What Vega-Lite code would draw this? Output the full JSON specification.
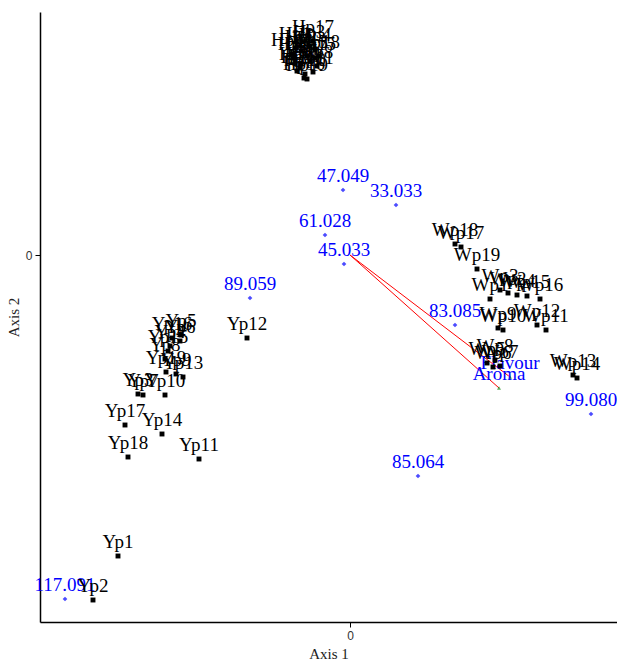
{
  "$schema": "https://vega.github.io/schema/vega-lite/v6.json",
  "width": 577,
  "height": 610,
  "autosize": {"type": "none"},
  "padding": {"left": 40, "top": 12, "right": 0, "bottom": 46},
  "background": "white",
  "config": {"view": {"stroke": null}},
  "datasets": {
    "obs": [
      {"x": -2.32, "y": -3.01, "label": "Yp1"},
      {"x": -2.57, "y": -3.45, "label": "Yp2"},
      {"x": -2.12, "y": -1.39, "label": "Yp3"},
      {"x": -1.80, "y": -0.91, "label": "Yp4"},
      {"x": -1.69, "y": -0.80, "label": "Yp5"},
      {"x": -1.70, "y": -0.86, "label": "Yp6"},
      {"x": -2.07, "y": -1.40, "label": "Yp7"},
      {"x": -1.85, "y": -1.04, "label": "Yp8"},
      {"x": -1.74, "y": -1.19, "label": "Yp9"},
      {"x": -1.85, "y": -1.40, "label": "Yp10"},
      {"x": -1.51, "y": -2.04, "label": "Yp11"},
      {"x": -1.03, "y": -0.83, "label": "Yp12"},
      {"x": -1.67, "y": -1.22, "label": "Yp13"},
      {"x": -1.88, "y": -1.79, "label": "Yp14"},
      {"x": -1.82, "y": -0.96, "label": "Yp15"},
      {"x": -1.78, "y": -0.83, "label": "Yp16"},
      {"x": -2.25, "y": -1.70, "label": "Yp17"},
      {"x": -2.22, "y": -2.02, "label": "Yp18"},
      {"x": -1.84, "y": -1.17, "label": "Yp19"},
      {"x": 1.40, "y": -0.44, "label": "Wp1"},
      {"x": 1.58, "y": -0.38, "label": "Wp2"},
      {"x": 1.50, "y": -0.35, "label": "Wp3"},
      {"x": 1.67, "y": -0.40, "label": "Wp4"},
      {"x": 1.37, "y": -1.08, "label": "Wp5"},
      {"x": 1.43, "y": -1.12, "label": "Wp6"},
      {"x": 1.50, "y": -1.11, "label": "Wp7"},
      {"x": 1.45, "y": -1.05, "label": "Wp8"},
      {"x": 1.48, "y": -0.73, "label": "Wp9"},
      {"x": 1.53, "y": -0.75, "label": "Wp10"},
      {"x": 1.96, "y": -0.75, "label": "Wp11"},
      {"x": 1.87, "y": -0.70, "label": "Wp12"},
      {"x": 2.23, "y": -1.20, "label": "Wp13"},
      {"x": 2.27, "y": -1.23, "label": "Wp14"},
      {"x": 1.77, "y": -0.41, "label": "Wp15"},
      {"x": 1.90, "y": -0.44, "label": "Wp16"},
      {"x": 1.11, "y": 0.08, "label": "Wp17"},
      {"x": 1.05, "y": 0.11, "label": "Wp18"},
      {"x": 1.27, "y": -0.14, "label": "Wp19"},
      {"x": -0.55, "y": 2.07, "label": "Hp1"},
      {"x": -0.49, "y": 2.04, "label": "Hp2"},
      {"x": -0.41, "y": 2.09, "label": "Hp3"},
      {"x": -0.35, "y": 2.06, "label": "Hp4"},
      {"x": -0.56, "y": 1.97, "label": "Hp5"},
      {"x": -0.49, "y": 1.91, "label": "Hp6"},
      {"x": -0.40, "y": 1.94, "label": "Hp7"},
      {"x": -0.33, "y": 1.89, "label": "Hp8"},
      {"x": -0.53, "y": 1.84, "label": "Hp9"},
      {"x": -0.45, "y": 1.81, "label": "Hp10"},
      {"x": -0.37, "y": 1.83, "label": "Hp11"},
      {"x": -0.58, "y": 2.01, "label": "Hp12"},
      {"x": -0.43, "y": 1.99, "label": "Hp13"},
      {"x": -0.50, "y": 1.87, "label": "Hp14"},
      {"x": -0.35, "y": 1.97, "label": "Hp15"},
      {"x": -0.46, "y": 1.77, "label": "Hp16"},
      {"x": -0.37, "y": 2.14, "label": "Hp17"},
      {"x": -0.31, "y": 1.99, "label": "Hp18"},
      {"x": -0.43, "y": 1.76, "label": "Hp19"}
    ],
    "vars": [
      {"x": -0.07, "y": 0.65, "label": "47.049"},
      {"x": 0.46, "y": 0.50, "label": "33.033"},
      {"x": -0.25, "y": 0.20, "label": "61.028"},
      {"x": -0.06, "y": -0.09, "label": "45.033"},
      {"x": -1.00, "y": -0.43, "label": "89.059"},
      {"x": 1.05, "y": -0.70, "label": "83.085"},
      {"x": 0.68, "y": -2.21, "label": "85.064"},
      {"x": 2.41, "y": -1.59, "label": "99.080"},
      {"x": -2.85, "y": -3.44, "label": "117.091"}
    ],
    "vecs": [
      {"x": 1.60, "y": -1.22, "label": "Flavour"},
      {"x": 1.49, "y": -1.33, "label": "Aroma"}
    ]
  },
  "layer": [
    {
      "data": {"name": "vecs"},
      "mark": {"type": "rule", "color": "#ff0000", "strokeWidth": 1},
      "encoding": {
        "x": {"field": "x", "type": "quantitative",
              "scale": {"domain": [-3.1, 2.67], "nice": false, "zero": false},
              "axis": {"values": [0], "format": "d", "title": "Axis 1", "grid": false,
                       "domainColor": "black", "domainWidth": 1.5, "tickColor": "black", "tickSize": 5,
                       "labelFont": "Liberation Sans", "labelFontSize": 12, "labelColor": "#333333", "labelPadding": 3,
                       "titleFont": "Liberation Serif", "titleFontSize": 15, "titleFontWeight": "normal", "titleColor": "#222222", "titlePadding": 5}},
        "y": {"field": "y", "type": "quantitative",
              "scale": {"domain": [-3.67, 2.43], "nice": false, "zero": false},
              "axis": {"values": [0], "format": "d", "title": "Axis 2", "grid": false,
                       "domainColor": "black", "domainWidth": 1.5, "tickColor": "black", "tickSize": 5,
                       "labelFont": "Liberation Sans", "labelFontSize": 12, "labelColor": "#333333", "labelPadding": 3,
                       "titleFont": "Liberation Serif", "titleFontSize": 15, "titleFontWeight": "normal", "titleColor": "#222222", "titlePadding": 4}},
        "x2": {"datum": 0},
        "y2": {"datum": 0}
      }
    },
    {
      "data": {"name": "vecs"},
      "mark": {"type": "point", "shape": "triangle-up", "filled": true, "color": "#1a8a1a", "size": 16},
      "encoding": {
        "x": {"field": "x", "type": "quantitative"},
        "y": {"field": "y", "type": "quantitative"}
      }
    },
    {
      "data": {"name": "vecs"},
      "mark": {"type": "text", "color": "#0000ff", "font": "Liberation Serif", "fontSize": 19, "dy": -8, "baseline": "alphabetic", "align": "center"},
      "encoding": {
        "x": {"field": "x", "type": "quantitative"},
        "y": {"field": "y", "type": "quantitative"},
        "text": {"field": "label"}
      }
    },
    {
      "data": {"name": "vars"},
      "mark": {"type": "point", "shape": "diamond", "filled": true, "color": "#0000ff", "size": 22},
      "encoding": {
        "x": {"field": "x", "type": "quantitative"},
        "y": {"field": "y", "type": "quantitative"}
      }
    },
    {
      "data": {"name": "vars"},
      "mark": {"type": "text", "color": "#0000ff", "font": "Liberation Serif", "fontSize": 19, "dy": -8, "baseline": "alphabetic", "align": "center"},
      "encoding": {
        "x": {"field": "x", "type": "quantitative"},
        "y": {"field": "y", "type": "quantitative"},
        "text": {"field": "label"}
      }
    },
    {
      "data": {"name": "obs"},
      "mark": {"type": "square", "filled": true, "color": "black", "size": 24, "opacity": 1},
      "encoding": {
        "x": {"field": "x", "type": "quantitative"},
        "y": {"field": "y", "type": "quantitative"}
      }
    },
    {
      "data": {"name": "obs"},
      "mark": {"type": "text", "color": "black", "font": "Liberation Serif", "fontSize": 19, "dy": -8, "baseline": "alphabetic", "align": "center"},
      "encoding": {
        "x": {"field": "x", "type": "quantitative"},
        "y": {"field": "y", "type": "quantitative"},
        "text": {"field": "label"}
      }
    }
  ]
}
